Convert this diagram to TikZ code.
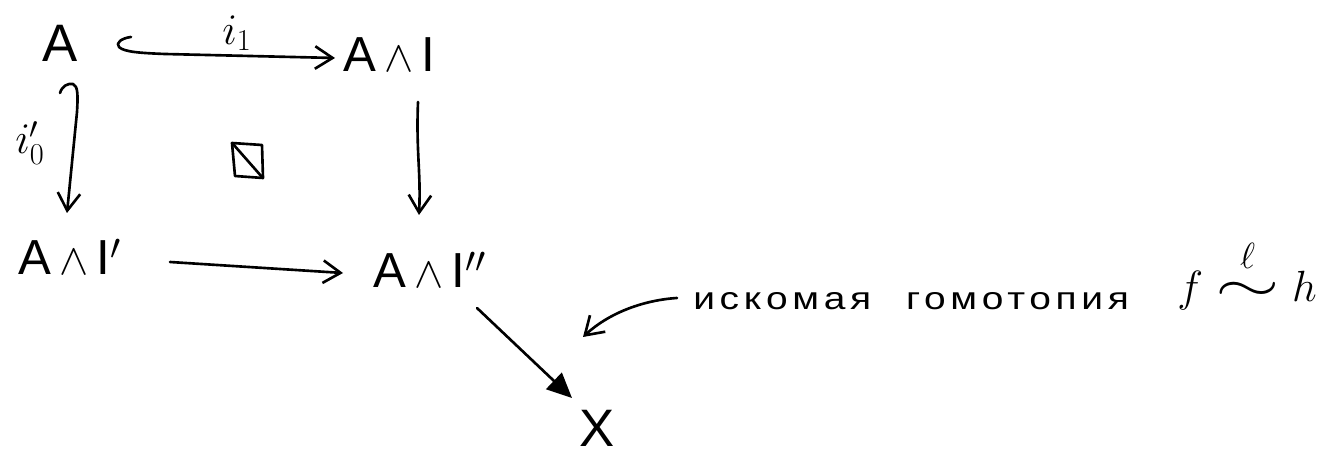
\documentclass[tikz,border=0pt]{standalone}
\usepackage{amsmath}
\usepackage{graphicx}
\usepackage{fontspec}
\setmainfont{Liberation Sans}
\newfontfamily\cyrfont[LetterSpace=12]{Liberation Sans}
\usetikzlibrary{arrows.meta}
\begin{document}
\begin{tikzpicture}[x=0.02cm,y=-0.02cm,
  big/.style={inner sep=0pt, font=\fontsize{30}{34}\selectfont},
  mid/.style={inner sep=0pt, font=\fontsize{28}{32}\selectfont},
  lbl/.style={inner sep=0pt, font=\fontsize{25}{28}\selectfont},
  ink/.style={line width=1.5pt, line cap=round, line join=round},
  arr/.style={ink, -{Straight Barb[length=3.5mm,width=4.5mm,line width=1.5pt]}},
  farr/.style={ink, -{Triangle[length=5mm,width=4.5mm]}}
]
\useasboundingbox (0,0) rectangle (1331,455);
% objects
\node[big, anchor=base] (A) at (60,62) {A};
\node[mid, anchor=base west] (AI) at (343,72) {A\,$\wedge$\,I};
\node[mid, anchor=base] (AIp) at (70,275) {A\,$\wedge$\,I$'$};
\node[mid, anchor=base] (AIpp) at (430,288) {A\,$\wedge$\,I$''$};
\node[big, anchor=base] (X) at (597,446) {X};
% labels
\node[lbl] (i1) at (237,33) {$i_1$};
\node[lbl] (i0) at (30,143) {$i_0'$};
\node[anchor=base west, inner sep=0pt, font=\fontsize{18}{20}\selectfont] (txt) at (693,310) {\scalebox{1.23}[1]{\cyrfont искомая\hspace{0.9em}гомотопия}};
\node[anchor=base west, inner sep=0pt, font=\fontsize{28}{32}\selectfont] (fh) at (1177,302) {$f\;\overset{\raisebox{3pt}{$\scriptstyle\ell$}}{\scalebox{1.9}[1.2]{$\sim$}}\;h$};
% pushout symbol
\draw[ink] (232,143) -- (262,145) -- (263,178) -- (235,176) -- cycle;
\draw[ink] (233,144) -- (262,177);
% arrows
\coordinate (h1) at (131,37);
\draw[arr] (h1) .. controls (122,38) and (115,43) .. (119,47)
  .. controls (124,52) and (140,53) .. (165,54)
  -- ([shift={(-8,-14)}]AI.base west);
\coordinate (h2) at (60,93);
\draw[arr] (h2) .. controls (62,86) and (68,83) .. (73,84)
  .. controls (78,86) and (78,95) .. (77,112)
  -- ([shift={(-3,-62)}]AIp.base);
\draw[arr] ([shift={(75,30)}]AI.base west) .. controls ([shift={(73,80)}]AI.base west) and ([shift={(78,100)}]AI.base west) .. ([shift={(-11,-73)}]AIpp.base);
\draw[arr] ([shift={(100,-13)}]AIp.base) -- ([shift={(-87,-15)}]AIpp.base);
\draw[farr] ([shift={(47,20)}]AIpp.base) -- ([shift={(-25,-48)}]X.base);
\draw[arr] ([shift={(-16,-12)}]txt.base west) .. controls (645,300) and (610,312) .. (583,337);
\end{tikzpicture}
\end{document}
